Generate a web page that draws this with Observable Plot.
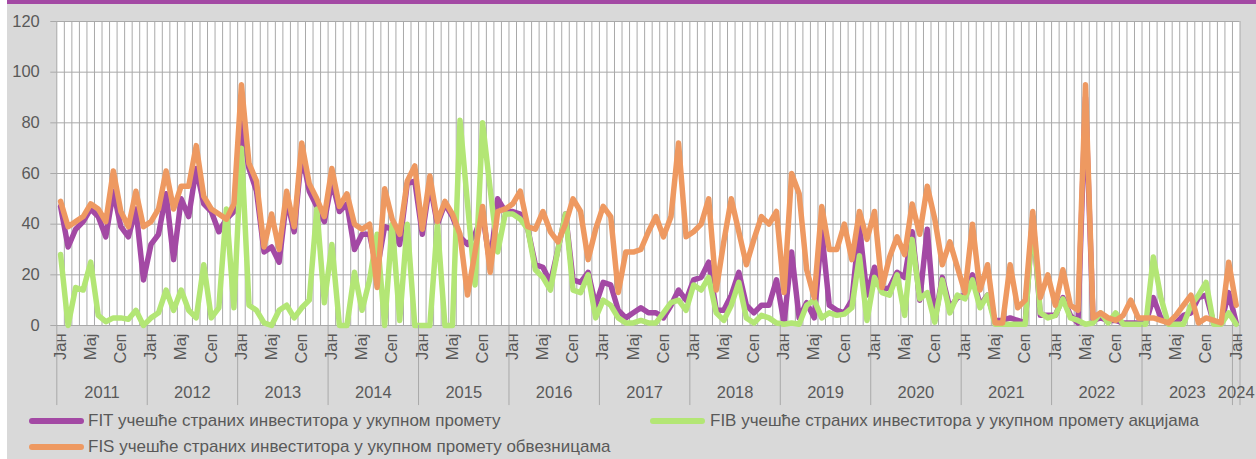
<!DOCTYPE html>
<html>
<head>
<meta charset="utf-8">
<script src="https://cdn.jsdelivr.net/npm/d3@7"></script>
<script src="https://cdn.jsdelivr.net/npm/@observablehq/plot@0.6"></script>
<style>
  body { margin: 0; background: #ffffff; }
  #wrap { position: absolute; left: 7px; top: 0; width: 1249px; height: 459px; background: #d9d9d9; overflow: hidden;
          font-family: "Liberation Sans", Arial, sans-serif; color: #595959; }
  #topbar { position: absolute; left: 0; top: 0; width: 100%; height: 4px; background: #a349a4; }
  #chart { position: absolute; left: 0; top: 0; }
  .sw { position: absolute; height: 6px; border-radius: 3px; width: 55px; }
  .lt { position: absolute; font-size: 17px; line-height: 20px; white-space: nowrap; }
</style>
</head>
<body>
<div id="wrap">
  <div id="chart"></div>
  <div id="topbar"></div>
  <div id="legend"></div>
</div>
<script>
// ---- data (monthly, Jan 2011 .. Jan 2024) ----
const years = [2011, 2012, 2013, 2014, 2015, 2016, 2017, 2018, 2019, 2020, 2021, 2022, 2023, 2024];
const monthNames = ["Јан", "Мај", "Сеп"];
const monthOffsets = [0, 4, 8];
const yTicks = [0, 20, 40, 60, 80, 100, 120];

const seriesNames = [
  "FIT учешће страних инвеститора у укупном промету",
  "FIB учешће страних инвеститора у укупном промету акцијама",
  "FIS учешће страних инвеститора у укупном промету обвезницама"
];
const seriesColors = ["#a349a4", "#b3e675", "#ee9961"];

const fit = [
  47, 31, 38, 41, 46, 43, 35, 53, 39, 35, 46, 18,
  32, 36, 52, 26, 50, 43, 62, 48, 45, 37, 42, 45,
  80, 62, 53, 29, 31, 25, 50, 37, 68, 53, 47, 41,
  57, 45, 48, 30, 36, 36, 22, 39, 38, 32, 56, 57,
  36, 56, 40, 48, 43, 35, 32, 36, 44, 24, 50, 45,
  45, 44, 38, 24, 23, 17, 30, 44, 18, 17, 21, 8,
  17, 16, 6, 3, 5, 7, 5, 5, 3, 8, 14, 10,
  18, 19, 25, 6, 6, 12, 21, 8, 5, 8, 8, 18,
  1, 29, 3, 9, 3, 37, 8, 6, 5, 10, 39, 12,
  23, 14, 15, 21, 19, 37, 10, 38, 2, 19, 7, 11,
  12, 20, 8, 12, 2, 2, 3, 2, 1, 43, 4, 4,
  4, 11, 4, 1, 90, 2, 3, 2, 2, 1, 1, 1,
  1, 11, 3, 1, 1, 4, 5, 11, 12, 1, 1, 13,
  1
];
const fib = [
  28, 0, 15, 14, 25, 4, 1.5, 3, 3, 2.5, 6, 0,
  3, 5, 14, 6, 14, 6, 3, 24, 3, 7, 46, 7,
  70, 8, 6, 1, 0, 6, 8, 3, 7, 10, 46, 9,
  32, 0, 0, 21, 6, 18, 36, 0, 40, 2, 40, 0,
  0, 0, 40, 0, 0, 81, 48, 16, 80, 54, 29, 44,
  44, 42, 38, 22, 19, 14, 30, 44, 14, 13, 20, 3,
  10, 8, 3, 1, 1, 2, 1, 1, 5, 9, 10, 6,
  16, 14, 19, 5, 2, 8, 17, 3, 1, 4, 3, 1,
  0.5, 1, 0.5, 8, 10, 3, 5, 4, 4.5, 7, 27.5, 2,
  19, 13, 12, 20, 4, 34, 10.5, 13, 1.3, 18, 5, 12,
  10.5, 18, 7, 12, 0.5, 0.5, 0.5, 0.5, 0.5, 43, 5, 3,
  4, 10.5, 3, 2, 0.5, 1, 5, 1, 5, 0.5, 0.5, 0.5,
  0.5, 27, 11, 0.5, 0.5, 0.5, 8, 12, 17, 0.5, 0.5, 5,
  0.5
];
const fis = [
  49, 39, 41, 43, 48, 46, 41, 61, 45, 39, 53, 39,
  41, 46, 61, 46, 55, 55, 71, 51, 46, 44, 42, 48,
  95, 64, 57, 31, 44, 30, 53, 39, 72, 56, 50, 43,
  62, 47, 52, 40, 38, 40, 15, 54, 42, 36, 57, 63,
  38, 59, 41, 49, 44, 36, 12, 29, 47, 21, 45, 46,
  48, 53, 39, 38, 45, 37, 33, 40, 50, 45, 26, 38,
  47, 43, 13, 29, 29, 30, 37, 43, 35, 43, 72, 35,
  37, 40, 50, 14, 33, 50, 37, 24, 34, 43, 40, 45,
  13, 60, 52, 22, 11, 47, 30, 30, 40, 26, 45, 34,
  45, 15, 27, 35, 28, 48, 36, 55, 42, 24, 33, 23,
  13, 40, 14, 24, 1, 1, 24, 7, 10, 45, 11, 20,
  8, 22, 8, 6, 95, 3, 5, 3, 2, 4, 10, 3,
  3, 3, 2, 1, 4, 8, 12, 1, 3, 2, 1, 25,
  8
];

// ---- derived tables ----
const n = fit.length;
const toRows = arr => arr.map((v, i) => ({i, v}));
const monthTicks = [];
years.forEach((y, k) => {
  monthOffsets.forEach((o, j) => {
    const i = k * 12 + o;
    if (i < n) monthTicks.push({i, label: monthNames[j]});
  });
});
const yearLabels = years.map((y, k) => ({
  y, c: Math.min((k * 12 + Math.min(k * 12 + 11, n - 1)) / 2, n - 1)
}));
const yearBounds = years.map((y, k) => k * 12 - 0.5).concat([n - 0.5]);
const gridX = d3.range(n + 1).map(k => k - 0.5);

const W = 1249, H = 410;
const lineOpts = {x: "i", y: "v", strokeWidth: 5.5, strokeLinejoin: "round", strokeLinecap: "round"};
const chart = Plot.plot({
  width: W,
  height: H,
  marginLeft: 49.3,
  marginRight: 16.5,
  marginTop: 21,
  marginBottom: H - 325,
  style: {background: "transparent", fontFamily: "Liberation Sans, Arial, sans-serif", color: "#595959"},
  x: {type: "linear", domain: [-0.5, n - 0.5], axis: null},
  y: {domain: [0, 120]},
  marks: [
    Plot.frame({fill: "#ffffff", stroke: null}),
    Plot.ruleX(gridX, {stroke: "#a9a9a9", strokeWidth: 1}),
    Plot.ruleY(yTicks, {stroke: "#a9a9a9", strokeWidth: 1}),
    Plot.axisY({ticks: yTicks, tickSize: 6, tickPadding: 11, stroke: "#a9a9a9", fill: "#595959", fontSize: 16.5, label: null}),
    Plot.line(toRows(fit), {...lineOpts, stroke: seriesColors[0]}),
    Plot.line(toRows(fib), {...lineOpts, stroke: seriesColors[1]}),
    Plot.line(toRows(fis), {...lineOpts, stroke: seriesColors[2]}),
    Plot.ruleX(yearBounds, {x: d => d, y1: 0, y2: -31.6, stroke: "#a9a9a9", strokeWidth: 1}),
    Plot.text(monthTicks, {x: "i", y: 0, text: "label", rotate: -90, textAnchor: "end", lineAnchor: "middle", dy: 8, fontSize: 16.5, fill: "#595959"}),
    Plot.text(yearLabels, {x: "c", y: 0, text: d => String(d.y), dy: 67, fontSize: 16.5, fill: "#595959"})
  ]
});
document.getElementById("chart").appendChild(chart);

// ---- legend (HTML, below the plot) ----
const legend = document.getElementById("legend");
const legendPos = [
  {sx: 22, tx: 81, y: 421},
  {sx: 643, tx: 703, y: 421},
  {sx: 22, tx: 81, y: 447}
];
seriesNames.forEach((name, k) => {
  const p = legendPos[k];
  const sw = document.createElement("div");
  sw.className = "sw";
  sw.style.left = p.sx + "px";
  sw.style.top = (p.y - 3) + "px";
  sw.style.background = seriesColors[k];
  legend.appendChild(sw);
  const t = document.createElement("div");
  t.className = "lt";
  t.style.left = p.tx + "px";
  t.style.top = (p.y - 10) + "px";
  t.textContent = name;
  legend.appendChild(t);
});
</script>
</body>
</html>
